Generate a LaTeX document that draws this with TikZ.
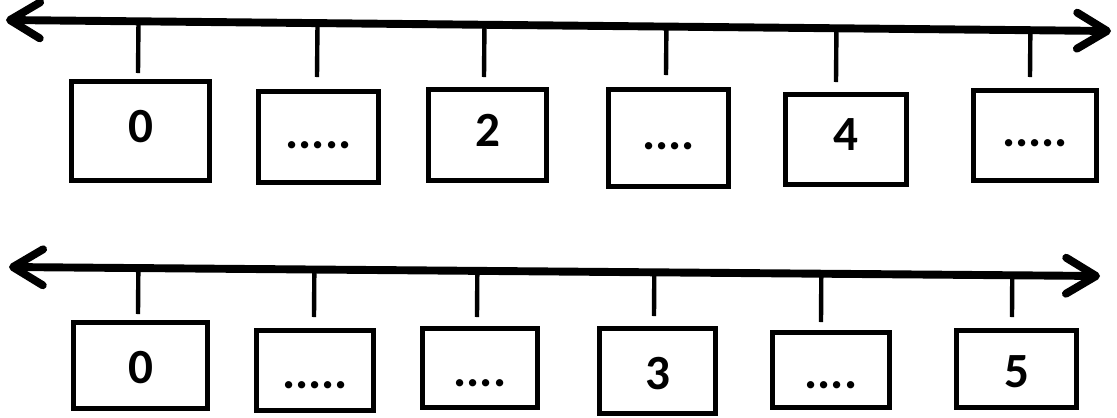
\documentclass[tikz,border=0pt]{standalone}
\usepackage{fontspec}
\setmainfont{Carlito}
\usetikzlibrary{arrows.meta,calc}

\tikzset{
  axis/.style={line width=4.5pt, line cap=round, {Straight Barb[length=0.6cm,width=0.72cm,round]}-{Straight Barb[length=0.6cm,width=0.72cm,round]}},
  tickline/.style={line width=2.5pt},
  box/.style={draw, line width=3.1pt, rectangle, inner sep=2pt, font=\fontsize{28pt}{30pt}\selectfont\bfseries},
  toprow/.style={box, text height=0.6cm, text depth=0.16cm},
  botrow/.style={box, text height=0.8cm, text depth=0.08cm}
}

\begin{document}
\begin{tikzpicture}[x=0.02cm, y=-0.02cm]
\useasboundingbox (0,0) rectangle (1117,417);

%%%%%%%%%%%%%%%%%Top line%%%%%%%%%%%%%%
\coordinate (topL) at (6,20);
\coordinate (topR) at (1111,31);
\draw[axis] (topL) -- (topR);

%Box 0
\node[toprow, minimum width=2.75cm, minimum height=1.97cm,
] (t0) at (140.5,131){0};

%Box 1
\node[toprow, minimum width=2.39cm, minimum height=1.81cm,
] (t1) at (318.5,137){.....};

%Box 2
\node[toprow, minimum width=2.35cm, minimum height=1.81cm,
] (t2) at (487.5,135){2};

%Box 3
\node[toprow, minimum width=2.39cm, minimum height=1.93cm,
] (t3) at (668.5,138){....};

%Box 4
\node[toprow, minimum width=2.41cm, minimum height=1.79cm,
] (t4) at (846,139.5){4};

%Box 5
\node[toprow, minimum width=2.45cm, minimum height=1.79cm,
] (t5) at (1035,135.5){.....};

%Ticks
\coordinate (tk0) at (138,73);
\coordinate (tk1) at (317,77);
\coordinate (tk2) at (484,77);
\coordinate (tk3) at (666,75);
\coordinate (tk4) at (836,82);
\coordinate (tk5) at (1030,77);

\draw[tickline] (tk0) -- ($(topL)!(tk0)!(topR)$);
\draw[tickline] (tk1) -- ($(topL)!(tk1)!(topR)$);
\draw[tickline] (tk2) -- ($(topL)!(tk2)!(topR)$);
\draw[tickline] (tk3) -- ($(topL)!(tk3)!(topR)$);
\draw[tickline] (tk4) -- ($(topL)!(tk4)!(topR)$);
\draw[tickline] (tk5) -- ($(topL)!(tk5)!(topR)$);


%%%%%%%%%%%%%%%%%Bottom line%%%%%%%%%%%%%%
\coordinate (botL) at (9,267);
\coordinate (botR) at (1100,276);
\draw[axis] (botL) -- (botR);

%Box 0
\node[botrow, minimum width=2.67cm, minimum height=1.71cm,
] (b0) at (140.5,365.5){0};

%Box 1
\node[botrow, minimum width=2.33cm, minimum height=1.59cm,
] (b1) at (315,370.5){.....};

%Box 2
\node[botrow, minimum width=2.29cm, minimum height=1.57cm,
] (b2) at (480,368){....};

%Box 3
\node[botrow, minimum width=2.31cm, minimum height=1.69cm,
] (b3) at (657.5,371){3};

%Box 4
\node[botrow, minimum width=2.33cm, minimum height=1.49cm,
] (b4) at (831,370){....};

%Box 5
\node[botrow, minimum width=2.39cm, minimum height=1.53cm,
] (b5) at (1016.5,369){5};

%Ticks
\coordinate (bk0) at (138,314);
\coordinate (bk1) at (314,317);
\coordinate (bk2) at (477,317);
\coordinate (bk3) at (654,316);
\coordinate (bk4) at (821,322);
\coordinate (bk5) at (1012,317);

\draw[tickline] (bk0) -- ($(botL)!(bk0)!(botR)$);
\draw[tickline] (bk1) -- ($(botL)!(bk1)!(botR)$);
\draw[tickline] (bk2) -- ($(botL)!(bk2)!(botR)$);
\draw[tickline] (bk3) -- ($(botL)!(bk3)!(botR)$);
\draw[tickline] (bk4) -- ($(botL)!(bk4)!(botR)$);
\draw[tickline] (bk5) -- ($(botL)!(bk5)!(botR)$);

\end{tikzpicture}
\end{document}
